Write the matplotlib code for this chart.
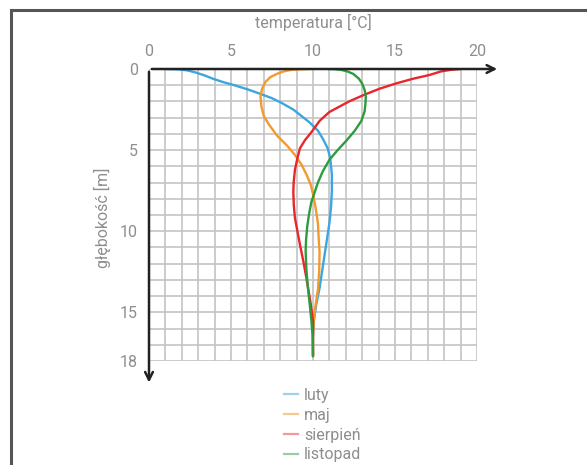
import numpy as np
import matplotlib.pyplot as plt
from matplotlib.lines import Line2D

plt.rcParams['font.family'] = ['Roboto', 'DejaVu Sans']

# temperature [C] vs depth [m]
luty_t = [1.0, 1.8, 2.3, 2.8, 3.4, 3.9, 4.5, 5.2, 6.0, 6.7, 7.5, 8.1, 8.8, 9.3, 9.8, 10.3,
          10.6, 10.9, 11.05, 11.15, 11.15, 11.1, 11.0, 10.85, 10.7, 10.55, 10.4, 10.2, 10.05, 10.0, 10.0]
luty_d = [0.0, 0.02, 0.08, 0.2, 0.4, 0.6, 0.8, 1.0, 1.25, 1.5, 1.8, 2.1, 2.5, 2.9, 3.3, 3.8,
          4.3, 4.9, 5.5, 6.5, 7.5, 8.5, 9.5, 10.5, 11.5, 12.5, 13.5, 14.5, 15.5, 16.5, 17.7]

maj_t = [9.8, 9.3, 8.7, 8.2, 7.8, 7.4, 7.1, 6.9, 6.8, 6.85, 7.0, 7.3, 7.8, 8.4, 8.9, 9.3,
         9.6, 9.85, 10.0, 10.15, 10.3, 10.35, 10.4, 10.38, 10.3, 10.15, 10.05, 10.0, 10.0]
maj_d = [0.0, 0.01, 0.05, 0.15, 0.3, 0.5, 0.8, 1.2, 1.7, 2.3, 2.9, 3.4, 4.1, 4.7, 5.3, 5.9,
         6.5, 7.1, 7.7, 8.5, 9.5, 10.5, 11.3, 12.4, 13.6, 14.6, 15.5, 16.5, 17.7]

sierpien_t = [19.0, 18.4, 17.8, 17.1, 16.1, 15.1, 14.1, 13.1, 12.2, 11.0, 10.4, 9.9, 9.5, 9.2,
              9.05, 8.9, 8.82, 8.8, 8.83, 8.9, 9.05, 9.2, 9.4, 9.6, 9.85, 10.0, 10.0, 10.0]
sierpien_d = [0.0, 0.05, 0.15, 0.37, 0.6, 0.88, 1.2, 1.6, 2.0, 2.65, 3.2, 3.9, 4.4, 4.9,
              5.5, 6.2, 7.0, 7.6, 8.4, 9.2, 10.0, 10.8, 11.8, 12.9, 14.4, 15.5, 16.5, 17.7]

listopad_t = [10.9, 11.3, 11.7, 12.1, 12.45, 12.8, 13.0, 13.15, 13.22, 13.2, 13.15, 12.95, 12.55,
              12.05, 11.5, 11.0, 10.6, 10.3, 10.1, 9.9, 9.75, 9.65, 9.58, 9.55, 9.6, 9.7, 9.8,
              9.9, 9.98, 10.0]
listopad_d = [0.0, 0.01, 0.05, 0.15, 0.3, 0.6, 0.9, 1.3, 1.7, 2.1, 2.6, 3.2, 3.8,
              4.4, 5.0, 5.6, 6.3, 7.0, 7.6, 8.2, 9.0, 9.7, 10.5, 11.2, 12.4, 13.6, 14.5,
              15.5, 16.5, 17.7]

names = ['luty', 'maj', 'sierpień', 'listopad']
colors = ['#3ba6e0', '#f29a2e', '#e8262b', '#2e9b3c']
legend_colors = ['#9fd0ee', '#f7c98c', '#f3999b', '#9acd9f']

W, H = 587, 465
fig = plt.figure(figsize=(W/100, H/100), dpi=100)
ax = fig.add_axes([149/W, 1 - 361/H, 328/W, 292/H])

gray = '#8e8e8e'

ax.set_xlim(0, 20)
ax.set_ylim(18, 0)
ax.set_xticks([0, 5, 10, 15, 20])
ax.set_xticks(range(21), minor=True)
ax.set_yticks([0, 5, 10, 15, 18])
ax.set_yticks(range(19), minor=True)
ax.xaxis.tick_top()
ax.tick_params(which='both', length=0, colors=gray, labelsize=11.5)
ax.tick_params(axis='x', pad=7)
ax.tick_params(axis='y', pad=8)
ax.grid(which='both', color='#c4c4c4', lw=1.2)
for s in ax.spines.values():
    s.set_visible(False)

for t, d, c in zip([luty_t, maj_t, sierpien_t, listopad_t],
                   [luty_d, maj_d, sierpien_d, listopad_d], colors):
    ax.plot(t, d, color=c, lw=1.7, solid_capstyle='round', solid_joinstyle='round', zorder=3)

# axes with arrows
arr = dict(arrowstyle='->', lw=1.8, color='#222222', mutation_scale=14)
ax.annotate('', xy=(21.4, 0), xytext=(0, 0), arrowprops=arr, annotation_clip=False, zorder=4)
ax.annotate('', xy=(0, 19.5), xytext=(0, 0), arrowprops=arr, annotation_clip=False, zorder=4)

fig.text(313/W, 1 - 22/H, 'temperatura [°C]', ha='center', va='center', color=gray, fontsize=11.5)
fig.text(102/W, 1 - 218/H, 'głębokość [m]', ha='center', va='center', rotation=90, color=gray, fontsize=11.5)

handles = [Line2D([], [], color=c, lw=1.6) for c in legend_colors]
fig.legend(handles, names, loc='upper left', bbox_to_anchor=(276/W, 1 - 380/H),
           frameon=False, fontsize=11.5, handlelength=0.9, handletextpad=0.35,
           labelspacing=0.3, borderpad=0, labelcolor=gray)

# outer frame (left and top edges)
fig.add_artist(Line2D([11/W, 11/W], [0, 1 - 10/H], color='#555555', lw=2.2))
fig.add_artist(Line2D([11/W, 1], [1 - 10/H, 1 - 10/H], color='#555555', lw=2.2))

fig.savefig('out.png', dpi=100)
